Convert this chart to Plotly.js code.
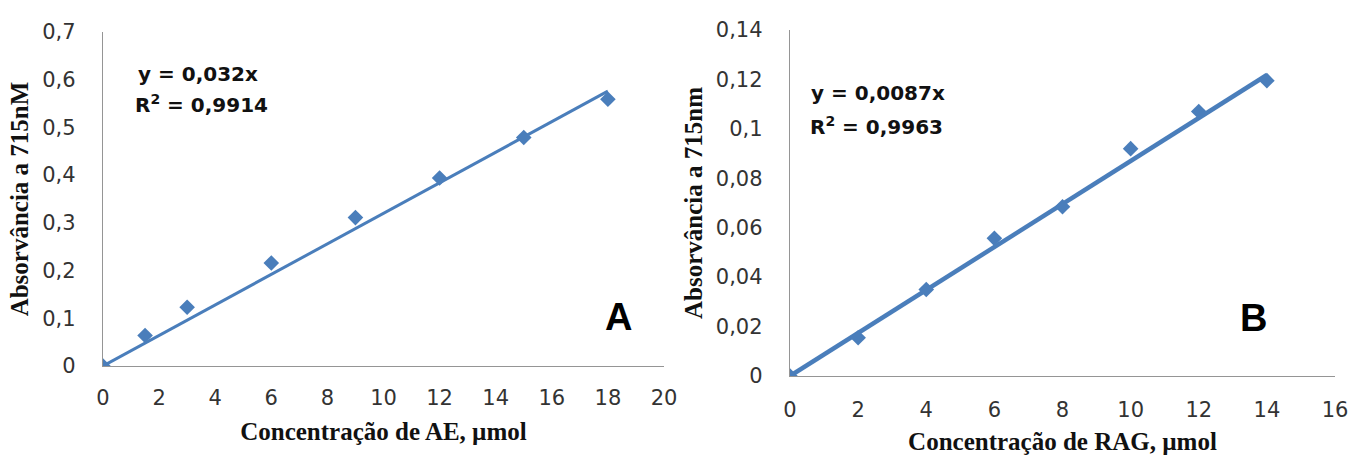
<!DOCTYPE html>
<html>
<head>
<meta charset="utf-8">
<script src="https://cdn.plot.ly/plotly-3.0.1.min.js"></script>
<style>
  html, body { margin: 0; padding: 0; background: #fff; }
  #chart { width: 1355px; height: 461px; }
</style>
</head>
<body>
<div id="chart"></div>
<script>
// ---- Data ----
const aeConc = [0, 1.5, 3, 6, 9, 12, 15, 18];
const aeAbs  = [0, 0.064, 0.123, 0.216, 0.311, 0.394, 0.479, 0.559];
const aeSlope = 0.032;
const aeFitX = [0, 18];

const ragConc = [0, 2, 4, 6, 8, 10, 12, 14];
const ragAbs  = [0, 0.0155, 0.0350, 0.0557, 0.0685, 0.0920, 0.1070, 0.1195];
const ragSlope = 0.0087;
const ragFitX = [0, 14];

const aeXTicks = [0, 2, 4, 6, 8, 10, 12, 14, 16, 18, 20];
const aeYTicks = [0, 0.1, 0.2, 0.3, 0.4, 0.5, 0.6, 0.7];
const aeYTickText = ['0', '0,1', '0,2', '0,3', '0,4', '0,5', '0,6', '0,7'];
const ragXTicks = [0, 2, 4, 6, 8, 10, 12, 14, 16];
const ragYTicks = [0, 0.02, 0.04, 0.06, 0.08, 0.1, 0.12, 0.14];
const ragYTickText = ['0', '0,02', '0,04', '0,06', '0,08', '0,1', '0,12', '0,14'];

const aeEq = 'y = 0,032x';
const aeR2 = 'R<sup>2</sup> = 0,9914';
const ragEq = 'y = 0,0087x';
const ragR2 = 'R<sup>2</sup> = 0,9963';

// ---- Styling ----
const blue = '#4a7ebb';
const tickFont = { family: 'DejaVu Sans, Open Sans, sans-serif', size: 21, color: '#333' };
const titleFont = { family: 'Liberation Serif, Times New Roman, serif', size: 25, color: '#111' };
const eqFont = { family: 'DejaVu Sans, Liberation Sans, sans-serif', size: 20, color: '#111' };
const letterFont = { family: 'Liberation Sans, Arial, sans-serif', size: 38, color: '#000' };

const traces = [
  { x: aeFitX, y: aeFitX.map(v => aeSlope * v), mode: 'lines', xaxis: 'x', yaxis: 'y',
    line: { color: blue, width: 3 }, hoverinfo: 'skip' },
  { x: aeConc, y: aeAbs, mode: 'markers', xaxis: 'x', yaxis: 'y',
    marker: { symbol: 'diamond', size: 12, color: blue } },
  { x: ragFitX, y: ragFitX.map(v => ragSlope * v), mode: 'lines', xaxis: 'x2', yaxis: 'y2',
    line: { color: blue, width: 4.5 }, hoverinfo: 'skip' },
  { x: ragConc, y: ragAbs, mode: 'markers', xaxis: 'x2', yaxis: 'y2',
    marker: { symbol: 'diamond', size: 12, color: blue } }
];

const axisCommon = {
  showgrid: false, zeroline: false, showline: true, linecolor: '#959595', linewidth: 1.2,
  ticks: '', tickfont: tickFont, fixedrange: true
};

const layout = {
  width: 1355, height: 461,
  margin: { l: 0, r: 0, t: 0, b: 0 },
  paper_bgcolor: '#fff', plot_bgcolor: '#fff',
  showlegend: false,
  separators: ',.',
  xaxis: Object.assign({}, axisCommon, {
    domain: [103 / 1355, 664 / 1355], range: [0, 20], tickvals: aeXTicks,
    ticklabelstandoff: 13,
    title: { text: '<b>Concentração de AE, µmol</b>', font: titleFont, standoff: 13 },
    anchor: 'y'
  }),
  yaxis: Object.assign({}, axisCommon, {
    domain: [1 - 366 / 461, 1 - 32 / 461], range: [0, 0.7],
    tickvals: aeYTicks, ticktext: aeYTickText, ticklabelstandoff: 22,
    title: { text: '<b>Absorvância a 715nM</b>', font: titleFont, standoff: 6 },
    anchor: 'x'
  }),
  xaxis2: Object.assign({}, axisCommon, {
    domain: [790 / 1355, 1335 / 1355], range: [0, 16], tickvals: ragXTicks,
    ticklabelstandoff: 15,
    title: { text: '<b>Concentração de RAG, µmol</b>', font: titleFont, standoff: 11 },
    anchor: 'y2'
  }),
  yaxis2: Object.assign({}, axisCommon, {
    domain: [1 - 376 / 461, 1 - 30 / 461], range: [0, 0.14],
    tickvals: ragYTicks, ticktext: ragYTickText, ticklabelstandoff: 22,
    title: { text: '<b>Absorvância a 715nm</b>', font: titleFont, standoff: 6 },
    anchor: 'x2'
  }),
  annotations: [
    { xref: 'paper', yref: 'paper', x: 136 / 1355, y: 1 - 74 / 461, text: '<b>' + aeEq + '</b>',
      showarrow: false, font: eqFont, xanchor: 'left', yanchor: 'middle' },
    { xref: 'paper', yref: 'paper', x: 133 / 1355, y: 1 - 104 / 461, text: '<b>' + aeR2 + '</b>',
      showarrow: false, font: eqFont, xanchor: 'left', yanchor: 'middle' },
    { xref: 'paper', yref: 'paper', x: 809 / 1355, y: 1 - 93 / 461, text: '<b>' + ragEq + '</b>',
      showarrow: false, font: eqFont, xanchor: 'left', yanchor: 'middle' },
    { xref: 'paper', yref: 'paper', x: 808 / 1355, y: 1 - 126 / 461, text: '<b>' + ragR2 + '</b>',
      showarrow: false, font: eqFont, xanchor: 'left', yanchor: 'middle' },
    { xref: 'paper', yref: 'paper', x: 618 / 1355, y: 1 - 317 / 461, text: '<b>A</b>',
      showarrow: false, font: letterFont, xanchor: 'center', yanchor: 'middle' },
    { xref: 'paper', yref: 'paper', x: 1253 / 1355, y: 1 - 318 / 461, text: '<b>B</b>',
      showarrow: false, font: letterFont, xanchor: 'center', yanchor: 'middle' }
  ]
};

Plotly.newPlot('chart', traces, layout, { displayModeBar: false, staticPlot: true });
</script>
</body>
</html>
